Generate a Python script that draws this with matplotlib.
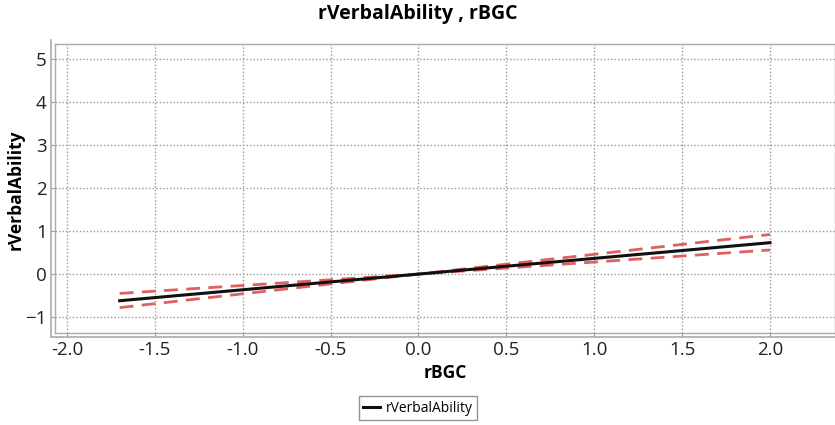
import matplotlib
matplotlib.use("Agg")
import matplotlib.pyplot as plt
from matplotlib.lines import Line2D

plt.rcParams['font.family'] = ['Open Sans', 'DejaVu Sans']

# regression line and confidence band
x_vals = [-1.7, 0.0, 2.0]
fit = [-0.62, 0.0, 0.73]
upper = [-0.45, 0.0, 0.92]
lower = [-0.78, 0.0, 0.56]

x_ticks = [-2.0, -1.5, -1.0, -0.5, 0.0, 0.5, 1.0, 1.5, 2.0]
y_ticks = [-1, 0, 1, 2, 3, 4, 5]

fig = plt.figure(figsize=(8.35, 4.25), dpi=100)
ax = fig.add_axes([55/835, 1 - 333/425, 780/835, 289/425])

ax.plot(x_vals, upper, color="#e06060", lw=2, dashes=(5, 3))
ax.plot(x_vals, lower, color="#e06060", lw=2, dashes=(5, 3))
ax.plot(x_vals, fit, color="#111111", lw=2.2, label="rVerbalAbility")

ax.set_xlim(-2.068, 2.37)
ax.set_ylim(-1.37, 5.35)
ax.set_xticks(x_ticks)
ax.set_xticklabels([f"{t:.1f}" for t in x_ticks])
ax.set_yticks(y_ticks)
ax.grid(True, color="#999999", linestyle=(0, (1, 1.5)), lw=1)
ax.tick_params(labelsize=13.5, length=3, color="#999999", colors="#222222", pad=3)
for s in ax.spines.values():
    s.set_color("#aaaaaa")
    s.set_linewidth(1)

ax.set_xlabel("rBGC", fontsize=12.5, fontweight="bold", labelpad=3)
fig.text(16/835, 1 - 190/425, "rVerbalAbility", fontsize=12.5, fontweight="bold",
         rotation=90, ha="center", va="center")
fig.text(418/835, 1 - 14/425, "rVerbalAbility , rBGC", fontsize=14,
         fontweight="bold", ha="center", va="center")

# outer axis lines (double frame look)
fig.add_artist(Line2D([51/835, 51/835], [1 - 336/425, 1 - 40/425], color="#aaaaaa", lw=1.2))
fig.add_artist(Line2D([51/835, 1.0], [1 - 337/425, 1 - 337/425], color="#aaaaaa", lw=1.2))

fig.legend(loc="center", bbox_to_anchor=(418/835, 1 - 408/425), fontsize=10,
           frameon=True, fancybox=False, edgecolor="#777777", handlelength=1.2,
           handletextpad=0.4, borderpad=0.3)

fig.savefig("out.png", dpi=100)
